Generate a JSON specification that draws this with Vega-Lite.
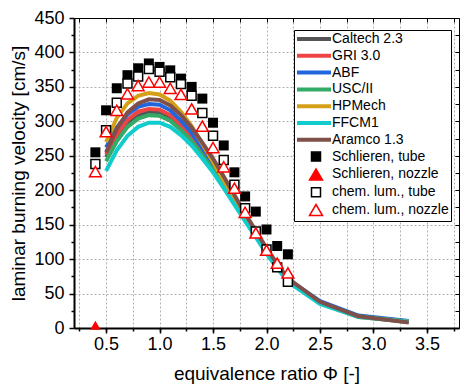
{
  "$schema": "https://vega.github.io/schema/vega-lite/v6.json",
  "width": 385,
  "height": 310,
  "autosize": {"type": "none"},
  "padding": {"left": 74, "top": 18, "right": 1, "bottom": 61},
  "background": "white",
  "config": {
    "font": "Liberation Sans",
    "view": {"stroke": null},
    "axis": {"labelFont": "Liberation Sans", "titleFont": "Liberation Sans", "labelColor": "black", "titleColor": "black", "tickColor": "black", "domainColor": "black", "titleFontWeight": "normal", "labelFontSize": 18, "titleFontSize": 19},
    "legend": {"labelFont": "Liberation Sans"}
  },
  "datasets": {
    "models": [
      {"series":"Caltech 2.3","phi":0.5,"v":248},{"series":"Caltech 2.3","phi":0.6,"v":277},{"series":"Caltech 2.3","phi":0.7,"v":297},{"series":"Caltech 2.3","phi":0.8,"v":308},{"series":"Caltech 2.3","phi":0.9,"v":313},{"series":"Caltech 2.3","phi":1.0,"v":312},{"series":"Caltech 2.3","phi":1.1,"v":304},{"series":"Caltech 2.3","phi":1.2,"v":290},{"series":"Caltech 2.3","phi":1.3,"v":274},{"series":"Caltech 2.3","phi":1.4,"v":254},{"series":"Caltech 2.3","phi":1.5,"v":232},{"series":"Caltech 2.3","phi":1.6,"v":208},{"series":"Caltech 2.3","phi":1.7,"v":183},{"series":"Caltech 2.3","phi":1.8,"v":159},{"series":"Caltech 2.3","phi":1.9,"v":135},{"series":"Caltech 2.3","phi":2.0,"v":111},{"series":"Caltech 2.3","phi":2.1,"v":90},{"series":"Caltech 2.3","phi":2.2,"v":70},{"series":"Caltech 2.3","phi":2.5,"v":37},{"series":"Caltech 2.3","phi":2.86,"v":17},{"series":"Caltech 2.3","phi":3.33,"v":9},
      {"series":"GRI 3.0","phi":0.5,"v":252},{"series":"GRI 3.0","phi":0.6,"v":281},{"series":"GRI 3.0","phi":0.7,"v":302},{"series":"GRI 3.0","phi":0.8,"v":314},{"series":"GRI 3.0","phi":0.9,"v":318},{"series":"GRI 3.0","phi":1.0,"v":317},{"series":"GRI 3.0","phi":1.1,"v":309},{"series":"GRI 3.0","phi":1.2,"v":295},{"series":"GRI 3.0","phi":1.3,"v":278},{"series":"GRI 3.0","phi":1.4,"v":257},{"series":"GRI 3.0","phi":1.5,"v":235},{"series":"GRI 3.0","phi":1.6,"v":210},{"series":"GRI 3.0","phi":1.7,"v":185},{"series":"GRI 3.0","phi":1.8,"v":160},{"series":"GRI 3.0","phi":1.9,"v":136},{"series":"GRI 3.0","phi":2.0,"v":112},{"series":"GRI 3.0","phi":2.1,"v":90},{"series":"GRI 3.0","phi":2.2,"v":70},{"series":"GRI 3.0","phi":2.5,"v":38},{"series":"GRI 3.0","phi":2.86,"v":17},{"series":"GRI 3.0","phi":3.33,"v":9},
      {"series":"ABF","phi":0.5,"v":262},{"series":"ABF","phi":0.6,"v":291},{"series":"ABF","phi":0.7,"v":310},{"series":"ABF","phi":0.8,"v":321},{"series":"ABF","phi":0.9,"v":325},{"series":"ABF","phi":1.0,"v":324},{"series":"ABF","phi":1.1,"v":316},{"series":"ABF","phi":1.2,"v":301},{"series":"ABF","phi":1.3,"v":283},{"series":"ABF","phi":1.4,"v":261},{"series":"ABF","phi":1.5,"v":238},{"series":"ABF","phi":1.6,"v":213},{"series":"ABF","phi":1.7,"v":187},{"series":"ABF","phi":1.8,"v":162},{"series":"ABF","phi":1.9,"v":137},{"series":"ABF","phi":2.0,"v":113},{"series":"ABF","phi":2.1,"v":91},{"series":"ABF","phi":2.2,"v":71},{"series":"ABF","phi":2.5,"v":39},{"series":"ABF","phi":2.86,"v":18},{"series":"ABF","phi":3.33,"v":10},
      {"series":"USC/II","phi":0.5,"v":242},{"series":"USC/II","phi":0.6,"v":271},{"series":"USC/II","phi":0.7,"v":292},{"series":"USC/II","phi":0.8,"v":304},{"series":"USC/II","phi":0.9,"v":309},{"series":"USC/II","phi":1.0,"v":308},{"series":"USC/II","phi":1.1,"v":301},{"series":"USC/II","phi":1.2,"v":287},{"series":"USC/II","phi":1.3,"v":271},{"series":"USC/II","phi":1.4,"v":251},{"series":"USC/II","phi":1.5,"v":230},{"series":"USC/II","phi":1.6,"v":206},{"series":"USC/II","phi":1.7,"v":181},{"series":"USC/II","phi":1.8,"v":157},{"series":"USC/II","phi":1.9,"v":133},{"series":"USC/II","phi":2.0,"v":110},{"series":"USC/II","phi":2.1,"v":88},{"series":"USC/II","phi":2.2,"v":69},{"series":"USC/II","phi":2.5,"v":36},{"series":"USC/II","phi":2.86,"v":17},{"series":"USC/II","phi":3.33,"v":9},
      {"series":"HPMech","phi":0.5,"v":270},{"series":"HPMech","phi":0.6,"v":305},{"series":"HPMech","phi":0.7,"v":326},{"series":"HPMech","phi":0.8,"v":337},{"series":"HPMech","phi":0.9,"v":341},{"series":"HPMech","phi":1.0,"v":339},{"series":"HPMech","phi":1.1,"v":330},{"series":"HPMech","phi":1.2,"v":314},{"series":"HPMech","phi":1.3,"v":293},{"series":"HPMech","phi":1.4,"v":267},{"series":"HPMech","phi":1.5,"v":241},{"series":"HPMech","phi":1.6,"v":214},{"series":"HPMech","phi":1.7,"v":187},{"series":"HPMech","phi":1.8,"v":160},{"series":"HPMech","phi":1.9,"v":135},{"series":"HPMech","phi":2.0,"v":110},{"series":"HPMech","phi":2.1,"v":88},{"series":"HPMech","phi":2.2,"v":68},{"series":"HPMech","phi":2.5,"v":36},{"series":"HPMech","phi":2.86,"v":16},{"series":"HPMech","phi":3.33,"v":9},
      {"series":"FFCM1","phi":0.5,"v":228},{"series":"FFCM1","phi":0.6,"v":258},{"series":"FFCM1","phi":0.7,"v":279},{"series":"FFCM1","phi":0.8,"v":292},{"series":"FFCM1","phi":0.9,"v":298},{"series":"FFCM1","phi":1.0,"v":298},{"series":"FFCM1","phi":1.1,"v":292},{"series":"FFCM1","phi":1.2,"v":280},{"series":"FFCM1","phi":1.3,"v":265},{"series":"FFCM1","phi":1.4,"v":246},{"series":"FFCM1","phi":1.5,"v":226},{"series":"FFCM1","phi":1.6,"v":203},{"series":"FFCM1","phi":1.7,"v":179},{"series":"FFCM1","phi":1.8,"v":155},{"series":"FFCM1","phi":1.9,"v":132},{"series":"FFCM1","phi":2.0,"v":108},{"series":"FFCM1","phi":2.1,"v":87},{"series":"FFCM1","phi":2.2,"v":67},{"series":"FFCM1","phi":2.5,"v":35},{"series":"FFCM1","phi":2.86,"v":16},{"series":"FFCM1","phi":3.33,"v":9},
      {"series":"Aramco 1.3","phi":0.5,"v":255},{"series":"Aramco 1.3","phi":0.6,"v":289},{"series":"Aramco 1.3","phi":0.7,"v":313},{"series":"Aramco 1.3","phi":0.8,"v":326},{"series":"Aramco 1.3","phi":0.9,"v":332},{"series":"Aramco 1.3","phi":1.0,"v":331},{"series":"Aramco 1.3","phi":1.1,"v":323},{"series":"Aramco 1.3","phi":1.2,"v":309},{"series":"Aramco 1.3","phi":1.3,"v":291},{"series":"Aramco 1.3","phi":1.4,"v":269},{"series":"Aramco 1.3","phi":1.5,"v":246},{"series":"Aramco 1.3","phi":1.6,"v":220},{"series":"Aramco 1.3","phi":1.7,"v":193},{"series":"Aramco 1.3","phi":1.8,"v":166},{"series":"Aramco 1.3","phi":1.9,"v":141},{"series":"Aramco 1.3","phi":2.0,"v":116},{"series":"Aramco 1.3","phi":2.1,"v":93},{"series":"Aramco 1.3","phi":2.2,"v":72},{"series":"Aramco 1.3","phi":2.5,"v":38},{"series":"Aramco 1.3","phi":2.86,"v":17},{"series":"Aramco 1.3","phi":3.33,"v":8}
    ],
    "schl_tube": [
      {"phi":0.4,"v":255},{"phi":0.5,"v":316},{"phi":0.6,"v":348},{"phi":0.7,"v":367},{"phi":0.8,"v":377},{"phi":0.9,"v":384},{"phi":1.0,"v":379},{"phi":1.1,"v":374},{"phi":1.2,"v":362},{"phi":1.3,"v":350},{"phi":1.4,"v":333},{"phi":1.5,"v":298},{"phi":1.6,"v":265},{"phi":1.7,"v":226},{"phi":1.8,"v":191},{"phi":1.9,"v":169},{"phi":2.0,"v":143},{"phi":2.1,"v":119},{"phi":2.2,"v":107}
    ],
    "schl_nozzle": [
      {"phi":0.4,"v":4}
    ],
    "cl_tube": [
      {"phi":0.4,"v":238},{"phi":0.5,"v":287},{"phi":0.6,"v":327},{"phi":0.7,"v":355},{"phi":0.8,"v":365},{"phi":0.9,"v":376},{"phi":1.0,"v":372},{"phi":1.1,"v":364},{"phi":1.2,"v":354},{"phi":1.3,"v":337},{"phi":1.4,"v":312},{"phi":1.5,"v":279},{"phi":1.6,"v":244},{"phi":1.7,"v":208},{"phi":1.8,"v":174},{"phi":1.9,"v":140},{"phi":2.0,"v":114},{"phi":2.1,"v":88},{"phi":2.2,"v":67}
    ],
    "cl_nozzle": [
      {"phi":0.4,"v":227},{"phi":0.5,"v":285},{"phi":0.6,"v":316},{"phi":0.7,"v":340},{"phi":0.8,"v":352},{"phi":0.9,"v":357},{"phi":1.0,"v":357},{"phi":1.1,"v":348},{"phi":1.2,"v":339},{"phi":1.3,"v":318},{"phi":1.4,"v":293},{"phi":1.5,"v":262},{"phi":1.6,"v":234},{"phi":1.7,"v":203},{"phi":1.8,"v":168},{"phi":1.9,"v":138},{"phi":2.0,"v":113},{"phi":2.1,"v":94},{"phi":2.2,"v":80}
    ]
  },
  "resolve": {"axis": {"x": "independent", "y": "independent"}},
  "layer": [
    {
      "data": {"name": "models"},
      "mark": {"type": "line", "strokeWidth": 4, "clip": true},
      "encoding": {
        "x": {"field": "phi", "type": "quantitative", "scale": {"domain": [0.2, 3.8], "nice": false, "zero": false},
          "axis": {"orient": "bottom", "values": [0.5, 1, 1.5, 2, 2.5, 3, 3.5], "format": ".1f", "tickSize": 5, "tickWidth": 1.5, "domainWidth": 2, "grid": false, "labelPadding": 2, "labelFlush": false, "title": "equivalence ratio Φ [-]", "titlePadding": 11}},
        "y": {"field": "v", "type": "quantitative", "scale": {"domain": [0, 450], "nice": false},
          "axis": {"orient": "left", "values": [0, 50, 100, 150, 200, 250, 300, 350, 400, 450], "tickSize": 5, "tickWidth": 1.5, "domainWidth": 2, "grid": true, "gridDash": [2, 2], "gridColor": "#b0b0b0", "labelPadding": 5, "labelFlush": false, "title": "laminar burning velocity [cm/s]", "titlePadding": 5}},
        "color": {"field": "series", "type": "nominal",
          "scale": {"domain": ["Caltech 2.3", "GRI 3.0", "ABF", "USC/II", "HPMech", "FFCM1", "Aramco 1.3", "Schlieren, tube", "Schlieren, nozzle", "chem. lum., tube", "chem. lum., nozzle"],
                    "range": ["#555555", "#ee4444", "#2266dd", "#33aa66", "#d4a017", "#11cccc", "#7f4f4a", "#000000", "#ff0000", "#000000", "#ff0000"]},
          "legend": {
            "orient": "none", "legendX": 220, "legendY": 12, "title": null,
            "strokeColor": "black", "fillColor": "white", "padding": 2, "cornerRadius": 0,
            "rowPadding": 0.8, "symbolSize": 100, "symbolStrokeWidth": 1.5, "labelFontSize": 14, "labelOffset": 22, "labelColor": "black", "labelLimit": 300,
            "encoding": {
              "symbols": {
                "shape": {"value": {"expr": "(datum.value == 'Schlieren, tube' || datum.value == 'chem. lum., tube') ? 'M1.7,-0.9H3.5V0.9H1.7Z' : ((datum.value == 'Schlieren, nozzle' || datum.value == 'chem. lum., nozzle') ? 'M2.6,-1.1L3.9,1.1L1.3,1.1Z' : 'M-1.2,0H5.6')"}},
                "fill": {"value": {"expr": "datum.value == 'Schlieren, tube' ? 'black' : (datum.value == 'Schlieren, nozzle' ? 'red' : ((datum.value == 'chem. lum., tube' || datum.value == 'chem. lum., nozzle') ? 'white' : 'transparent'))"}},
                "stroke": {"value": {"expr": "scale('color', datum.value)"}},
                "strokeWidth": {"value": {"expr": "indexof(['Schlieren, tube','Schlieren, nozzle','chem. lum., tube','chem. lum., nozzle'], datum.value) >= 0 ? 1.5 : 4"}},
                "opacity": {"value": 1},
                "size": {"value": 100}
              }
            }
          }
        }
      }
    },
    {
      "data": {"name": "schl_tube"},
      "mark": {"type": "point", "shape": "square", "filled": true, "color": "black", "size": 100, "opacity": 1},
      "encoding": {
        "x": {"field": "phi", "type": "quantitative",
          "axis": {"orient": "bottom", "values": [0.25, 0.5, 0.75, 1, 1.25, 1.5, 1.75, 2, 2.25, 2.5, 2.75, 3, 3.25, 3.5, 3.75], "tickSize": 3, "tickWidth": 1.5, "labels": false, "domain": false, "grid": true, "gridDash": [2, 2], "gridColor": "#b0b0b0", "title": null}},
        "y": {"field": "v", "type": "quantitative",
          "axis": {"orient": "left", "values": [25, 75, 125, 175, 225, 275, 325, 375, 425], "tickSize": 3, "tickWidth": 1.5, "labels": false, "domain": false, "grid": false, "title": null}}
      }
    },
    {
      "data": {"name": "schl_nozzle"},
      "mark": {"type": "point", "shape": "triangle-up", "filled": true, "color": "red", "size": 110, "opacity": 1},
      "encoding": {
        "x": {"field": "phi", "type": "quantitative",
          "axis": {"orient": "top", "values": [0.25, 0.5, 0.75, 1, 1.25, 1.5, 1.75, 2, 2.25, 2.5, 2.75, 3, 3.25, 3.5, 3.75], "tickSize": -4, "tickWidth": 1, "labels": false, "domain": true, "domainWidth": 1, "grid": false, "title": null}},
        "y": {"field": "v", "type": "quantitative",
          "axis": {"orient": "right", "values": [0, 25, 50, 75, 100, 125, 150, 175, 200, 225, 250, 275, 300, 325, 350, 375, 400, 425, 450], "tickSize": -4, "tickWidth": 1, "labels": false, "domain": true, "domainWidth": 1, "grid": false, "title": null}}
      }
    },
    {
      "data": {"name": "cl_tube"},
      "mark": {"type": "point", "shape": "square", "filled": false, "fill": "white", "stroke": "black", "strokeWidth": 1.5, "size": 80, "opacity": 1},
      "encoding": {
        "x": {"field": "phi", "type": "quantitative", "axis": null},
        "y": {"field": "v", "type": "quantitative", "axis": null}
      }
    },
    {
      "data": {"name": "cl_nozzle"},
      "mark": {"type": "point", "shape": "triangle-up", "filled": false, "fill": "white", "stroke": "red", "strokeWidth": 1.5, "size": 140, "opacity": 1},
      "encoding": {
        "x": {"field": "phi", "type": "quantitative", "axis": null},
        "y": {"field": "v", "type": "quantitative", "axis": null}
      }
    }
  ]
}
